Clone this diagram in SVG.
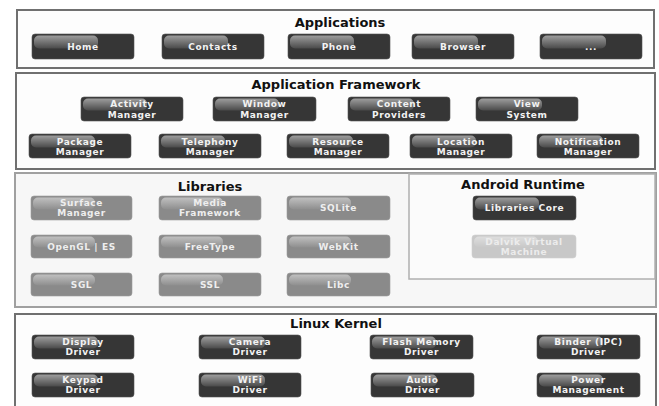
<svg xmlns="http://www.w3.org/2000/svg" width="659" height="406" viewBox="0 0 659 406">
<defs>
<linearGradient id="gloss" x1="0" y1="0" x2="0" y2="1">
<stop offset="0" stop-color="#9e9e9e"/>
<stop offset="1" stop-color="#4a4a4a"/>
</linearGradient>
<linearGradient id="glossL" x1="0" y1="0" x2="0" y2="1">
<stop offset="0" stop-color="#c0c0c0"/>
<stop offset="1" stop-color="#8e8e8e"/>
</linearGradient>
<linearGradient id="glossD" x1="0" y1="0" x2="0" y2="1">
<stop offset="0" stop-color="#dedede"/>
<stop offset="1" stop-color="#c8c8c8"/>
</linearGradient>
</defs>
<style>
.layer{fill:#fdfdfd;stroke:#707070;stroke-width:2}
.sub{fill:#fbfbfb;stroke:#b0b0b0;stroke-width:1.5}
.libs{fill:#f7f7f7;stroke:#a0a0a0;stroke-width:2}
.title{font-family:"DejaVu Sans",sans-serif;font-weight:bold;font-size:13px;fill:#111;text-anchor:middle}
.btn{fill:#363636;stroke:#555;stroke-width:0.6}
.btnL{fill:#8a8a8a;stroke:#9a9a9a;stroke-width:0.6}
.btnD{fill:#c8c8c8;stroke:#d0d0d0;stroke-width:0.6}
.gl{fill:url(#gloss)}
.glL{fill:url(#glossL)}
.glD{fill:url(#glossD)}
.t{font-family:"DejaVu Sans",sans-serif;font-weight:bold;font-size:9px;letter-spacing:0.6px;fill:#f2f2f2;text-anchor:middle}
.tL{fill:#eeeeee}
.tD{fill:#ececec}
</style>

<!-- Layer frames -->
<g id="applications">
<rect class="layer" x="17" y="10" width="637" height="58"/>
<text class="title" x="340" y="27">Applications</text>
</g>
<g id="framework">
<rect class="layer" x="16" y="73" width="639" height="96"/>
<text class="title" x="336" y="89">Application Framework</text>
</g>
<g id="libraries">
<rect class="libs" x="15" y="173" width="641" height="134"/>
<text class="title" x="210" y="191">Libraries</text>
</g>
<g id="android-runtime">
<rect class="sub" x="409" y="174" width="246" height="105"/>
<text class="title" x="523" y="189">Android Runtime</text>
</g>
<g id="linux-kernel">
<rect class="layer" x="15" y="314" width="641" height="100"/>
<text class="title" x="336" y="328">Linux Kernel</text>
</g>

<!-- Applications -->
<g id="home"><rect class="btn" x="32" y="34" width="102" height="25" rx="3"/><rect class="gl" x="34" y="35.5" width="64" height="13" rx="5"/><text class="t" x="83" y="50">Home</text></g>
<g id="contacts"><rect class="btn" x="162" y="34" width="102" height="25" rx="3"/><rect class="gl" x="164" y="35.5" width="64" height="13" rx="5"/><text class="t" x="213" y="50">Contacts</text></g>
<g id="phone"><rect class="btn" x="288" y="34" width="102" height="25" rx="3"/><rect class="gl" x="290" y="35.5" width="64" height="13" rx="5"/><text class="t" x="339" y="50">Phone</text></g>
<g id="browser"><rect class="btn" x="412" y="34" width="102" height="25" rx="3"/><rect class="gl" x="414" y="35.5" width="64" height="13" rx="5"/><text class="t" x="463" y="50">Browser</text></g>
<g id="more"><rect class="btn" x="540" y="34" width="102" height="25" rx="3"/><rect class="gl" x="542" y="35.5" width="64" height="13" rx="5"/><text class="t" x="591" y="50">...</text></g>

<!-- Application Framework -->
<g id="activity-manager"><rect class="btn" x="81" y="97" width="102" height="24" rx="3"/><rect class="gl" x="83" y="98.5" width="64" height="12" rx="5"/><text class="t" x="132" y="107">Activity</text><text class="t" x="132" y="118">Manager</text></g>
<g id="window-manager"><rect class="btn" x="213" y="97" width="103" height="24" rx="3"/><rect class="gl" x="215" y="98.5" width="64" height="12" rx="5"/><text class="t" x="264.5" y="107">Window</text><text class="t" x="264.5" y="118">Manager</text></g>
<g id="content-providers"><rect class="btn" x="348" y="97" width="102" height="24" rx="3"/><rect class="gl" x="350" y="98.5" width="64" height="12" rx="5"/><text class="t" x="399" y="107">Content</text><text class="t" x="399" y="118">Providers</text></g>
<g id="view-system"><rect class="btn" x="476" y="97" width="102" height="24" rx="3"/><rect class="gl" x="478" y="98.5" width="64" height="12" rx="5"/><text class="t" x="527" y="107">View</text><text class="t" x="527" y="118">System</text></g>
<g id="package-manager"><rect class="btn" x="29" y="134" width="102" height="24" rx="3"/><rect class="gl" x="31" y="135.5" width="64" height="12" rx="5"/><text class="t" x="80" y="145">Package</text><text class="t" x="80" y="155">Manager</text></g>
<g id="telephony-manager"><rect class="btn" x="159" y="134" width="102" height="24" rx="3"/><rect class="gl" x="161" y="135.5" width="64" height="12" rx="5"/><text class="t" x="210" y="145">Telephony</text><text class="t" x="210" y="155">Manager</text></g>
<g id="resource-manager"><rect class="btn" x="287" y="134" width="102" height="24" rx="3"/><rect class="gl" x="289" y="135.5" width="64" height="12" rx="5"/><text class="t" x="338" y="145">Resource</text><text class="t" x="338" y="155">Manager</text></g>
<g id="location-manager"><rect class="btn" x="410" y="134" width="102" height="24" rx="3"/><rect class="gl" x="412" y="135.5" width="64" height="12" rx="5"/><text class="t" x="461" y="145">Location</text><text class="t" x="461" y="155">Manager</text></g>
<g id="notification-manager"><rect class="btn" x="537" y="134" width="102" height="24" rx="3"/><rect class="gl" x="539" y="135.5" width="64" height="12" rx="5"/><text class="t" x="588" y="145">Notification</text><text class="t" x="588" y="155">Manager</text></g>

<!-- Libraries -->
<g id="surface-manager"><rect class="btnL" x="31" y="196" width="101" height="24" rx="3"/><rect class="glL" x="33" y="197.5" width="62" height="12" rx="5"/><text class="t tL" x="81.5" y="206">Surface</text><text class="t tL" x="81.5" y="216">Manager</text></g>
<g id="media-framework"><rect class="btnL" x="159" y="196" width="102" height="24" rx="3"/><rect class="glL" x="161" y="197.5" width="62" height="12" rx="5"/><text class="t tL" x="210" y="206">Media</text><text class="t tL" x="210" y="216">Framework</text></g>
<g id="sqlite"><rect class="btnL" x="287" y="196" width="103" height="24" rx="3"/><rect class="glL" x="289" y="197.5" width="62" height="12" rx="5"/><text class="t tL" x="338.5" y="211">SQLite</text></g>
<g id="opengl-es"><rect class="btnL" x="31" y="235" width="101" height="23" rx="3"/><rect class="glL" x="33" y="236.5" width="62" height="11" rx="5"/><text class="t tL" x="81.5" y="249.5">OpenGL | ES</text></g>
<g id="freetype"><rect class="btnL" x="159" y="235" width="102" height="23" rx="3"/><rect class="glL" x="161" y="236.5" width="62" height="11" rx="5"/><text class="t tL" x="210" y="249.5">FreeType</text></g>
<g id="webkit"><rect class="btnL" x="287" y="235" width="103" height="23" rx="3"/><rect class="glL" x="289" y="236.5" width="62" height="11" rx="5"/><text class="t tL" x="338.5" y="249.5">WebKit</text></g>
<g id="sgl"><rect class="btnL" x="31" y="273" width="101" height="23" rx="3"/><rect class="glL" x="33" y="274.5" width="62" height="11" rx="5"/><text class="t tL" x="81.5" y="287.5">SGL</text></g>
<g id="ssl"><rect class="btnL" x="159" y="273" width="102" height="23" rx="3"/><rect class="glL" x="161" y="274.5" width="62" height="11" rx="5"/><text class="t tL" x="210" y="287.5">SSL</text></g>
<g id="libc"><rect class="btnL" x="287" y="273" width="103" height="23" rx="3"/><rect class="glL" x="289" y="274.5" width="62" height="11" rx="5"/><text class="t tL" x="338.5" y="287.5">Libc</text></g>

<!-- Android Runtime -->
<g id="libraries-core"><rect class="btn" x="473" y="196" width="103" height="24" rx="3"/><rect class="gl" x="475" y="197.5" width="64" height="12" rx="5"/><text class="t" x="524.5" y="211">Libraries Core</text></g>
<g id="dalvik-vm"><rect class="btnD" x="472" y="235" width="104" height="23" rx="3"/><rect class="glD" x="474" y="236.5" width="64" height="11" rx="5"/><text class="t tD" x="524" y="245">Dalvik Virtual</text><text class="t tD" x="524" y="255">Machine</text></g>

<!-- Linux Kernel -->
<g id="display-driver"><rect class="btn" x="32" y="335" width="102" height="24" rx="3"/><rect class="gl" x="34" y="336.5" width="64" height="12" rx="5"/><text class="t" x="83" y="345">Display</text><text class="t" x="83" y="355">Driver</text></g>
<g id="camera-driver"><rect class="btn" x="199" y="335" width="102" height="24" rx="3"/><rect class="gl" x="201" y="336.5" width="64" height="12" rx="5"/><text class="t" x="250" y="345">Camera</text><text class="t" x="250" y="355">Driver</text></g>
<g id="flash-memory-driver"><rect class="btn" x="370" y="335" width="103" height="24" rx="3"/><rect class="gl" x="372" y="336.5" width="64" height="12" rx="5"/><text class="t" x="421.5" y="345">Flash Memory</text><text class="t" x="421.5" y="355">Driver</text></g>
<g id="binder-driver"><rect class="btn" x="537" y="335" width="103" height="24" rx="3"/><rect class="gl" x="539" y="336.5" width="64" height="12" rx="5"/><text class="t" x="588.5" y="345">Binder (IPC)</text><text class="t" x="588.5" y="355">Driver</text></g>
<g id="keypad-driver"><rect class="btn" x="32" y="373" width="102" height="24" rx="3"/><rect class="gl" x="34" y="374.5" width="64" height="12" rx="5"/><text class="t" x="83" y="383">Keypad</text><text class="t" x="83" y="393">Driver</text></g>
<g id="wifi-driver"><rect class="btn" x="199" y="373" width="102" height="24" rx="3"/><rect class="gl" x="201" y="374.5" width="64" height="12" rx="5"/><text class="t" x="250" y="383">WiFi</text><text class="t" x="250" y="393">Driver</text></g>
<g id="audio-driver"><rect class="btn" x="371" y="373" width="103" height="24" rx="3"/><rect class="gl" x="373" y="374.5" width="64" height="12" rx="5"/><text class="t" x="422.5" y="383">Audio</text><text class="t" x="422.5" y="393">Driver</text></g>
<g id="power-management"><rect class="btn" x="537" y="373" width="103" height="24" rx="3"/><rect class="gl" x="539" y="374.5" width="64" height="12" rx="5"/><text class="t" x="588.5" y="383">Power</text><text class="t" x="588.5" y="393">Management</text></g>

<g id="connectors"></g>
</svg>
